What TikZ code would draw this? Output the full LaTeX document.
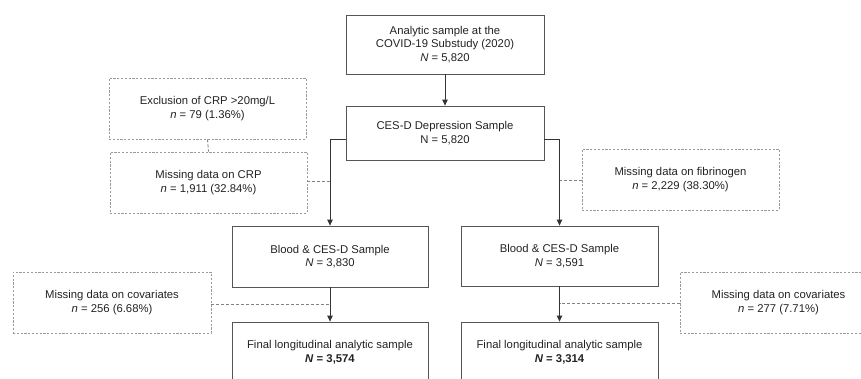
\documentclass[tikz,border=0pt]{standalone}
\usepackage{fontspec}
\setmainfont{Liberation Sans}
\usetikzlibrary{arrows.meta}
\definecolor{solidgray}{HTML}{555555}
\definecolor{dashgray}{HTML}{9A9A9A}
\definecolor{txt}{HTML}{222222}
\tikzset{
  box/.style={draw=solidgray, line width=0.8pt, inner sep=0pt, align=center,
    text=txt, font=\fontsize{11.3}{13.6}\selectfont, minimum width=#1},
  box/.default=197pt,
  dbox/.style={box=#1, draw=dashgray, dash pattern=on 2.2pt off 1.6pt},
  dbox/.default=197pt,
  arr/.style={draw=black!80, line width=0.9pt, -{Triangle[width=5.5pt,length=6pt]}},
  dline/.style={draw=dashgray!85!black, line width=0.9pt, dash pattern=on 3pt off 2pt},
}
\begin{document}
\begin{tikzpicture}[x=1pt,y=-1pt]
\useasboundingbox (0,0) rectangle (861,379);
\node[box=198pt, minimum height=59pt] (top) at (445,44.5)
  {Analytic sample at the\\COVID-19 Substudy (2020)\\\textit{N} = 5,820};
\node[box=198pt, minimum height=54pt] (cesd) at (445,133)
  {CES-D Depression Sample\\N = 5,820};
\node[dbox, minimum height=61pt] (excl) at (207.5,108.5)
  {Exclusion of CRP >20mg/L\\\textit{n} = 79 (1.36\%)};
\node[dbox, minimum height=61pt] (crp) at (208.5,182.5)
  {Missing data on CRP\\\textit{n} = 1,911 (32.84\%)};
\node[dbox, minimum height=61pt] (fib) at (680.5,179.5)
  {Missing data on fibrinogen\\\textit{n} = 2,229 (38.30\%)};
\node[box=196pt, minimum height=61pt] (bloodL) at (330,256.5)
  {Blood \& CES-D Sample\\\textit{N} = 3,830};
\node[box=197pt, minimum height=60pt] (bloodR) at (559.5,256)
  {Blood \& CES-D Sample\\\textit{N} = 3,591};
\node[box=196pt, minimum height=61pt] (finalL) at (330,352.5)
  {Final longitudinal analytic sample\\\textbf{\textit{N} = 3,574}};
\node[box=197pt, minimum height=61pt] (finalR) at (559.5,352.5)
  {Final longitudinal analytic sample\\\textbf{\textit{N} = 3,314}};
\node[dbox=198pt, minimum height=61pt] (covL) at (112,302.5)
  {Missing data on covariates\\\textit{n} = 256 (6.68\%)};
\node[dbox, minimum height=61pt] (covR) at (778.5,302.5)
  {Missing data on covariates\\\textit{n} = 277 (7.71\%)};
% solid connectors
\draw[arr] (top.south) -- (cesd.north);
\draw[arr] (cesd.west |- 0,139) -| (bloodL.north);
\draw[arr] (cesd.east |- 0,139) -| (bloodR.north);
\draw[arr] (bloodL.south) -- (finalL.north);
\draw[arr] (bloodR.south) -- (finalR.north);
% dashed connectors
\draw[dline] (excl.south) -- (crp.north);
\draw[dline] (crp.east |- 0,181) -- (bloodL.north |- 0,181);
\draw[dline] (fib.west |- 0,180) -- (bloodR.north |- 0,180);
\draw[dline] (covL.east |- 0,304) -- (bloodL.south |- 0,304);
\draw[dline] (covR.west |- 0,303) -- (bloodR.south |- 0,303);
\end{tikzpicture}
\end{document}
